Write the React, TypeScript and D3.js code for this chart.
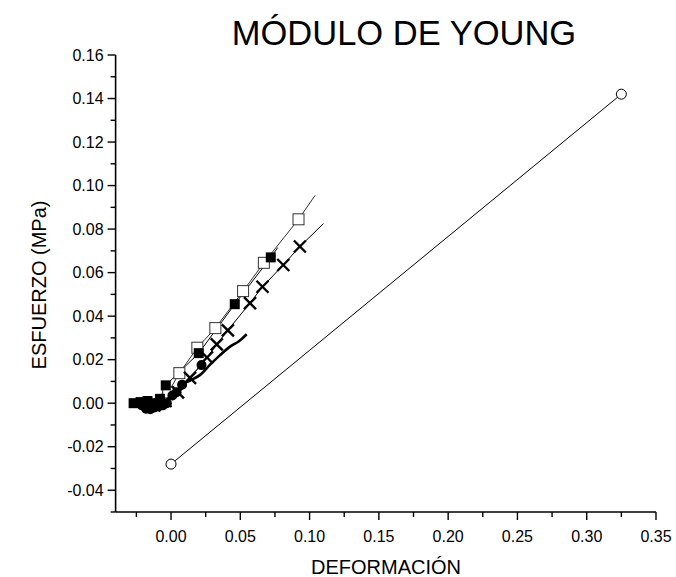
import React from "react";
import * as d3 from "d3";

const W = 676;
const H = 577;

// Tick values
const xTicks = [0.0, 0.05, 0.1, 0.15, 0.2, 0.25, 0.3, 0.35];
const xMinor = [-0.025, 0.025, 0.075, 0.125, 0.175, 0.225, 0.275, 0.325];
const yTicks = [-0.04, -0.02, 0.0, 0.02, 0.04, 0.06, 0.08, 0.1, 0.12, 0.14, 0.16];
const yMinor = [-0.05, -0.03, -0.01, 0.01, 0.03, 0.05, 0.07, 0.09, 0.11, 0.13, 0.15];

// Series: open circles
const ocX = [0.0, 0.325];
const ocY = [-0.028, 0.142];

// Series: open squares
const osX = [-0.002, 0.006, 0.019, 0.032, 0.052, 0.067, 0.092];
const osY = [0.005, 0.0138, 0.0255, 0.0345, 0.0515, 0.0645, 0.0845];
const osLineStart = [-0.018, 0.0];
const osLineEnd = [0.104, 0.0955];

// Series: filled squares
const fsX = [-0.027, -0.022, -0.017, -0.012, -0.008, -0.0038, 0.02, 0.046, 0.072];
const fsY = [0.0, 0.0005, 0.001, 0.0, 0.002, 0.0082, 0.023, 0.0455, 0.067];
const fsLineEnd = [0.077, 0.0715];

// Series: crosses
const crX = [-0.012, -0.004, 0.005, 0.0137, 0.026, 0.033, 0.041, 0.057, 0.066, 0.081, 0.093];
const crY = [-0.001, 0.001, 0.005, 0.0116, 0.021, 0.027, 0.0335, 0.046, 0.0535, 0.0635, 0.072];
const crLineEnd = [0.110, 0.0825];

// Series: filled circles
const fcX = [-0.021, -0.018, -0.015, -0.012, -0.009, -0.006, -0.003, 0.001, 0.004, 0.008, 0.022];
const fcY = [-0.001, -0.0025, -0.0028, -0.002, -0.0015, -0.001, 0.0, 0.0035, 0.005, 0.0085, 0.0175];

// Series: thick line
const tlX = [-0.016, -0.008, 0.0, 0.0077, 0.014, 0.021, 0.028, 0.0354, 0.0426, 0.049, 0.0546];
const tlY = [-0.002, -0.001, 0.002, 0.0084, 0.0105, 0.013, 0.0176, 0.0221, 0.026, 0.0285, 0.0317];

const FONT = "Arial, 'Liberation Sans', sans-serif";

export default function App() {
  const x = d3.scaleLinear().domain([-0.04, 0.35]).range([115.6, 656]);
  const y = d3.scaleLinear().domain([-0.05, 0.16]).range([512, 55]);

  const line = d3
    .line<[number, number]>()
    .x((d) => x(d[0]))
    .y((d) => y(d[1]));
  const smooth = d3
    .line<[number, number]>()
    .x((d) => x(d[0]))
    .y((d) => y(d[1]))
    .curve(d3.curveCatmullRom);

  const zip = (a: number[], b: number[]) => a.map((v, i) => [v, b[i]] as [number, number]);

  const oc = zip(ocX, ocY);
  const os = zip(osX, osY);
  const fs = zip(fsX, fsY);
  const cr = zip(crX, crY);
  const fc = zip(fcX, fcY);
  const tl = zip(tlX, tlY);

  const xAxisY = y(-0.05);
  const yAxisX = x(-0.04);

  return (
    <svg
      width={W}
      height={H}
      style={{ position: "absolute", left: 0, top: 0, background: "#fff" }}
      fontFamily={FONT}
    >
      <rect width={W} height={H} fill="#fff" />
      {/* Title */}
      <text x={404} y={45} textAnchor="middle" fontSize={34.5} fill="#000">
        MÓDULO DE YOUNG
      </text>

      {/* Axes */}
      <line x1={yAxisX} x2={yAxisX} y1={y(0.16)} y2={xAxisY} stroke="#000" strokeWidth={1.6} />
      <line x1={yAxisX} x2={x(0.35)} y1={xAxisY} y2={xAxisY} stroke="#000" strokeWidth={1.6} />

      {xTicks.map((t) => (
        <g key={"xt" + t}>
          <line x1={x(t)} x2={x(t)} y1={xAxisY} y2={xAxisY + 8} stroke="#000" strokeWidth={1.4} />
          <text x={x(t)} y={xAxisY + 30} textAnchor="middle" fontSize={16} fill="#000">
            {t.toFixed(2)}
          </text>
        </g>
      ))}
      {xMinor.map((t) => (
        <line key={"xm" + t} x1={x(t)} x2={x(t)} y1={xAxisY} y2={xAxisY + 5} stroke="#000" strokeWidth={1.4} />
      ))}
      {yTicks.map((t) => (
        <g key={"yt" + t}>
          <line x1={yAxisX - 8} x2={yAxisX} y1={y(t)} y2={y(t)} stroke="#000" strokeWidth={1.4} />
          <text x={yAxisX - 12} y={y(t) + 5.5} textAnchor="end" fontSize={16} fill="#000">
            {t.toFixed(2)}
          </text>
        </g>
      ))}
      {yMinor.map((t) => (
        <line key={"ym" + t} x1={yAxisX - 5} x2={yAxisX} y1={y(t)} y2={y(t)} stroke="#000" strokeWidth={1.4} />
      ))}

      {/* Axis labels */}
      <text x={386} y={574} textAnchor="middle" fontSize={20} fill="#000">
        DEFORMACIÓN
      </text>
      <text transform={`translate(46, 285) rotate(-90)`} textAnchor="middle" fontSize={20} fill="#000">
        ESFUERZO (MPa)
      </text>

      {/* Lines */}
      <path d={line(oc) || ""} fill="none" stroke="#000" strokeWidth={1} />
      <path
        d={line([osLineStart as [number, number], ...os, osLineEnd as [number, number]]) || ""}
        fill="none"
        stroke="#333"
        strokeWidth={1}
      />
      <path d={line([...fs, fsLineEnd as [number, number]]) || ""} fill="none" stroke="#000" strokeWidth={1} />
      <path d={line([...cr, crLineEnd as [number, number]]) || ""} fill="none" stroke="#000" strokeWidth={1} />
      <path d={line(fc) || ""} fill="none" stroke="#000" strokeWidth={1} />
      <path d={smooth(tl) || ""} fill="none" stroke="#000" strokeWidth={2.6} />

      {/* Markers: open squares */}
      {os.map((d, i) => (
        <rect key={"os" + i} x={x(d[0]) - 5.5} y={y(d[1]) - 5.5} width={11} height={11} fill="#fff" stroke="#333" strokeWidth={1} />
      ))}
      {/* Markers: crosses */}
      {cr.map((d, i) => {
        const cx = x(d[0]);
        const cy = y(d[1]);
        const s = 6;
        return (
          <g key={"cr" + i} stroke="#000" strokeWidth={2.4}>
            <line x1={cx - s} y1={cy - s} x2={cx + s} y2={cy + s} />
            <line x1={cx - s} y1={cy + s} x2={cx + s} y2={cy - s} />
          </g>
        );
      })}
      {/* Markers: filled squares */}
      {fs.map((d, i) => (
        <rect key={"fs" + i} x={x(d[0]) - 5} y={y(d[1]) - 5} width={10} height={10} fill="#000" />
      ))}
      {/* Markers: filled circles */}
      {fc.map((d, i) => (
        <circle key={"fc" + i} cx={x(d[0])} cy={y(d[1])} r={5} fill="#000" />
      ))}
      {/* Markers: open circles */}
      {oc.map((d, i) => (
        <circle key={"oc" + i} cx={x(d[0])} cy={y(d[1])} r={5} fill="#fff" stroke="#000" strokeWidth={1} />
      ))}
    </svg>
  );
}
